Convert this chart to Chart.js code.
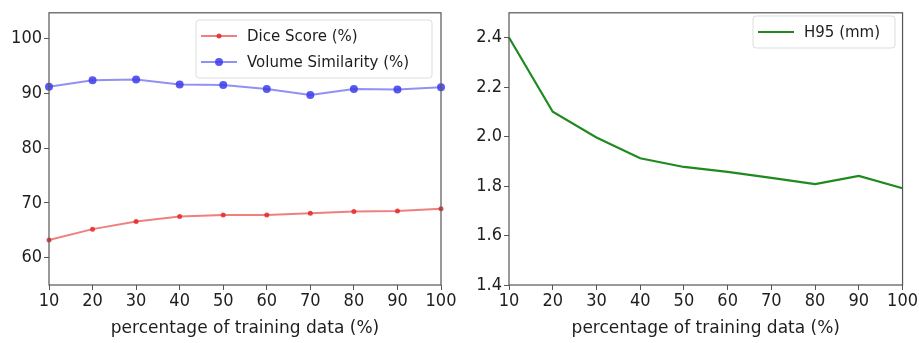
<!DOCTYPE html>
<html>
<head>
<meta charset="utf-8">
<script src="https://cdn.jsdelivr.net/npm/chart.js@4.4.0/dist/chart.umd.min.js"></script>
<style>
  body { margin: 0; background: #fff; }
  .panel { position: absolute; top: 0; height: 343px; }
  #left { left: 0; width: 460px; }
  #right { left: 460px; width: 459px; }
</style>
</head>
<body>
<div class="panel" id="left"><canvas id="chart-left"></canvas></div>
<div class="panel" id="right"><canvas id="chart-right"></canvas></div>
<script>
// percentage of training data
const trainingPct = [10, 20, 30, 40, 50, 60, 70, 80, 90, 100];

// left panel
const diceScore = [63.2, 65.2, 66.6, 67.5, 67.8, 67.8, 68.1, 68.4, 68.5, 68.9];
const volumeSimilarity = [91.2, 92.4, 92.5, 91.6, 91.5, 90.8, 89.7, 90.8, 90.7, 91.1];
const leftTicks = [60, 70, 80, 90, 100];

// right panel
const h95 = [2.40, 2.10, 1.996, 1.912, 1.877, 1.857, 1.833, 1.808, 1.841, 1.791];
const rightTicks = [1.4, 1.6, 1.8, 2.0, 2.2, 2.4];

const xTicks = trainingPct;
const xLabel = "percentage of training data (%)";
const tickColor = "#1e1e1e";
const tickFont = { family: "DejaVu Sans Condensed, DejaVu Sans", size: 18 };

// box around the plot area, like matplotlib spines
const frame = {
    id: "frame",
    afterDraw(chart) {
        const { ctx, chartArea: a } = chart;
        ctx.save();
        ctx.strokeStyle = "#555";
        ctx.lineWidth = 1.2;
        ctx.strokeRect(a.left, a.top, a.right - a.left, a.bottom - a.top);
        ctx.restore();
    }
};

// legend drawn inside the plot area (upper right)
const boxLegend = {
    id: "boxLegend",
    afterDraw(chart, args, opts) {
        const { ctx } = chart;
        const sets = chart.data.datasets;
        ctx.save();
        ctx.font = "15px DejaVu Sans";
        const x = opts.x, y = opts.y, w = opts.w, rowH = 26;
        const h = sets.length * rowH + 6;
        ctx.fillStyle = "rgba(255,255,255,0.85)";
        ctx.strokeStyle = "#ddd";
        ctx.lineWidth = 1;
        ctx.beginPath();
        ctx.roundRect(x, y, w, h, 3);
        ctx.fill();
        ctx.stroke();
        sets.forEach((ds, i) => {
            const cy = y + 16 + i * rowH;
            ctx.strokeStyle = ds.borderColor;
            ctx.lineWidth = ds.borderWidth;
            ctx.beginPath();
            ctx.moveTo(x + 5, cy);
            ctx.lineTo(x + 41, cy);
            ctx.stroke();
            if (ds.pointRadius > 0) {
                ctx.fillStyle = ds.pointBackgroundColor;
                ctx.beginPath();
                ctx.arc(x + 23, cy, ds.pointRadius, 0, Math.PI * 2);
                ctx.fill();
            }
            ctx.fillStyle = tickColor;
            ctx.textBaseline = "middle";
            ctx.fillText(ds.label, x + 51, cy + 1);
        });
        ctx.restore();
    }
};

function xScale() {
    return {
        type: "linear",
        min: 10,
        max: 100,
        afterBuildTicks: (s) => { s.ticks = xTicks.map(v => ({ value: v })); },
        afterFit: (s) => { s.height = 58; },
        grid: { display: true, drawOnChartArea: false, drawTicks: true, tickLength: 5, color: "#555" },
        border: { display: false },
        ticks: { color: tickColor, font: tickFont, padding: 1, maxRotation: 0 },
        title: { display: true, text: xLabel, color: tickColor, font: { family: "DejaVu Sans", size: 17 }, padding: { top: 0 } }
    };
}

function yScale(min, max, ticks, digits) {
    return {
        min: min,
        max: max,
        afterBuildTicks: (s) => { s.ticks = ticks.map(v => ({ value: v })); },
        afterFit: (s) => { s.width = 49; },
        grid: { display: true, drawOnChartArea: false, drawTicks: true, tickLength: 5, color: "#555" },
        border: { display: false },
        ticks: { color: tickColor, font: tickFont, padding: 2, callback: (v) => v.toFixed(digits) }
    };
}

new Chart(document.getElementById("chart-left"), {
    type: "line",
    data: {
        datasets: [
            {
                label: "Dice Score (%)",
                data: trainingPct.map((x, i) => ({ x: x, y: diceScore[i] })),
                borderColor: "rgba(230, 60, 60, 0.65)",
                pointBackgroundColor: "rgba(230, 40, 40, 0.85)",
                pointBorderWidth: 0,
                borderWidth: 2,
                pointRadius: 2.5,
                tension: 0
            },
            {
                label: "Volume Similarity (%)",
                data: trainingPct.map((x, i) => ({ x: x, y: volumeSimilarity[i] })),
                borderColor: "rgba(70, 70, 240, 0.6)",
                pointBackgroundColor: "rgba(60, 60, 235, 0.85)",
                pointBorderWidth: 0,
                borderWidth: 2,
                pointRadius: 4,
                tension: 0
            }
        ]
    },
    options: {
        responsive: true,
        maintainAspectRatio: false,
        animation: false,
        clip: false,
        layout: { padding: { top: 10, right: 19, left: 0, bottom: 0 } },
        plugins: {
            legend: { display: false },
            tooltip: { enabled: false },
            boxLegend: { x: 196, y: 20, w: 236 }
        },
        scales: { x: xScale(), y: yScale(55, 104.7, leftTicks, 0) }
    },
    plugins: [frame, boxLegend]
});

new Chart(document.getElementById("chart-right"), {
    type: "line",
    data: {
        datasets: [
            {
                label: "H95 (mm)",
                data: trainingPct.map((x, i) => ({ x: x, y: h95[i] })),
                borderColor: "#1f8a1f",
                borderWidth: 2.2,
                pointRadius: 0,
                tension: 0
            }
        ]
    },
    options: {
        responsive: true,
        maintainAspectRatio: false,
        animation: false,
        clip: false,
        layout: { padding: { top: 6, right: 15, left: 0, bottom: 0 } },
        plugins: {
            legend: { display: false },
            tooltip: { enabled: false },
            boxLegend: { x: 293, y: 16, w: 142 }
        },
        scales: { x: xScale(), y: yScale(1.4, 2.5, rightTicks, 1) }
    },
    plugins: [frame, boxLegend]
});
</script>
</body>
</html>
